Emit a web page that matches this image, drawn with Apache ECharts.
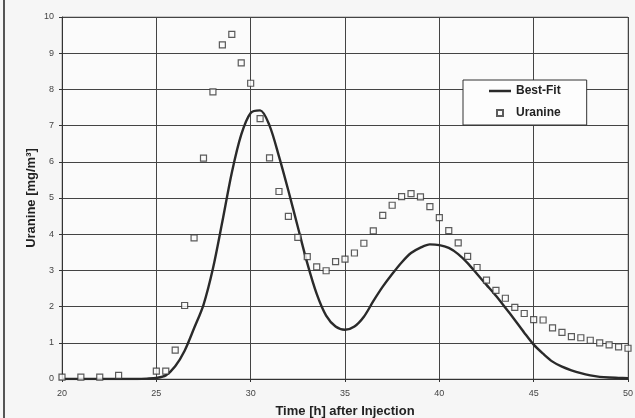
<!DOCTYPE html>
<html>
<head>
<meta charset="utf-8">
<script src="https://cdn.jsdelivr.net/npm/echarts@6/dist/echarts.min.js"></script>
<style>
html,body{margin:0;padding:0;background:#f6f6f6;}
#chart{width:635px;height:418px;}
</style>
</head>
<body>
<div id="chart"></div>
<script>
// Measured tracer concentrations (Uranine) – time [h], concentration [mg/m3]
const uranineTime = [20,21,22,23,25,25.5,26,26.5,27,27.5,28,28.5,29,29.5,30,30.5,31,31.5,32,32.5,33,33.5,34,34.5,35,35.5,36,36.5,37,37.5,38,38.5,39,39.5,40,40.5,41,41.5,42,42.5,43,43.5,44,44.5,45,45.5,46,46.5,47,47.5,48,48.5,49,49.5,50];
const uranineValue = [0.05,0.05,0.05,0.1,0.22,0.22,0.8,2.03,3.9,6.1,7.93,9.23,9.52,8.73,8.17,7.19,6.11,5.18,4.49,3.91,3.38,3.1,2.99,3.24,3.31,3.48,3.75,4.09,4.52,4.8,5.04,5.12,5.03,4.76,4.46,4.1,3.76,3.39,3.08,2.73,2.45,2.23,1.98,1.81,1.64,1.63,1.41,1.29,1.17,1.14,1.07,1.0,0.94,0.89,0.85];
// Best-fit model curve
const fitTime = [20,21,22,23,24,24.5,25,25.5,26,26.5,27,27.5,28,28.5,29,29.5,30,30.5,31,31.5,32,32.5,33,33.5,34,34.5,35,35.5,36,36.5,37,37.5,38,38.5,39,39.5,40,40.5,41,41.5,42,42.5,43,43.5,44,44.5,45,45.5,46,46.5,47,47.5,48,48.5,49,49.5,50];
const fitValue = [0,0,0,0,0,0.01,0.03,0.1,0.35,0.78,1.4,2.05,3.05,4.35,5.7,6.75,7.35,7.42,7.0,6.15,5.2,4.2,3.2,2.35,1.75,1.45,1.36,1.45,1.72,2.15,2.55,2.9,3.22,3.48,3.63,3.72,3.7,3.62,3.45,3.2,2.9,2.6,2.3,1.97,1.63,1.28,0.95,0.7,0.48,0.34,0.24,0.16,0.1,0.06,0.04,0.03,0.02];
const xTitle = 'Time [h] after Injection';
const yTitle = 'Uranine [mg/m³]';

const zip = (a, b) => a.map((v, i) => [v, b[i]]);
const chart = echarts.init(document.getElementById('chart'), null, {renderer: 'canvas'});
const font = '"Liberation Sans", Arial, sans-serif';
chart.setOption({
  backgroundColor: '#f6f6f6',
  animation: false,
  textStyle: {fontFamily: font},
  grid: {left: 62, right: 7, top: 17, bottom: 39, show: true, backgroundColor: '#fbfbfb', borderColor: '#9a9a9a', borderWidth: 1, containLabel: false, outerBoundsMode: 'none'},
  graphic: [{type: 'line', shape: {x1: 4, y1: 0, x2: 4, y2: 418}, style: {stroke: '#555', lineWidth: 2}}],
  legend: {
    orient: 'vertical', left: 463, top: 80, width: 125,
    padding: [4, 26, 5, 26],
    backgroundColor: '#fdfdfd', borderColor: '#333', borderWidth: 1,
    itemWidth: 22, itemHeight: 6, itemGap: 8,
    symbolKeepAspect: true,
    textStyle: {fontFamily: font, fontWeight: 'bold', fontSize: 12, color: '#222', lineHeight: 14},
    data: [
      {name: 'Best-Fit', icon: 'path://M0,0L22,0L22,2.5L0,2.5Z'},
      {name: 'Uranine', icon: 'path://M0,0L10,0L10,10L0,10Z'}
    ]
  },
  xAxis: {
    type: 'value', min: 20, max: 50, interval: 5,
    name: xTitle, nameLocation: 'middle', nameGap: 26, nameMoveOverlap: false,
    nameTextStyle: {fontFamily: font, fontWeight: 'bold', fontSize: 13, color: '#222'},
    axisLine: {show: true, lineStyle: {color: '#333', width: 1}},
    axisTick: {show: true, length: 3, lineStyle: {color: '#333'}},
    axisLabel: {fontSize: 9, color: '#444', margin: 10},
    splitLine: {show: true, lineStyle: {color: '#444', width: 1}}
  },
  yAxis: {
    type: 'value', min: 0, max: 10, interval: 1,
    name: yTitle, nameLocation: 'middle', nameGap: 24, nameRotate: 90, nameMoveOverlap: false,
    nameTextStyle: {fontFamily: font, fontWeight: 'bold', fontSize: 13, color: '#222'},
    axisLine: {show: true, lineStyle: {color: '#333', width: 1}},
    axisTick: {show: true, length: 3, lineStyle: {color: '#333'}},
    axisLabel: {fontSize: 9, color: '#444', margin: 8},
    splitLine: {show: true, lineStyle: {color: '#444', width: 1}}
  },
  series: [
    {
      name: 'Best-Fit', type: 'line', data: zip(fitTime, fitValue),
      smooth: 0.3, symbol: 'none', z: 3,
      lineStyle: {color: '#2a2a2a', width: 2.4},
      itemStyle: {color: '#2a2a2a'}
    },
    {
      name: 'Uranine', type: 'scatter', data: zip(uranineTime, uranineValue),
      symbol: 'rect', symbolSize: 6, z: 4,
      itemStyle: {color: '#fbfbfb', borderColor: '#333', borderWidth: 1.2}
    }
  ]
});
</script>
</body>
</html>
